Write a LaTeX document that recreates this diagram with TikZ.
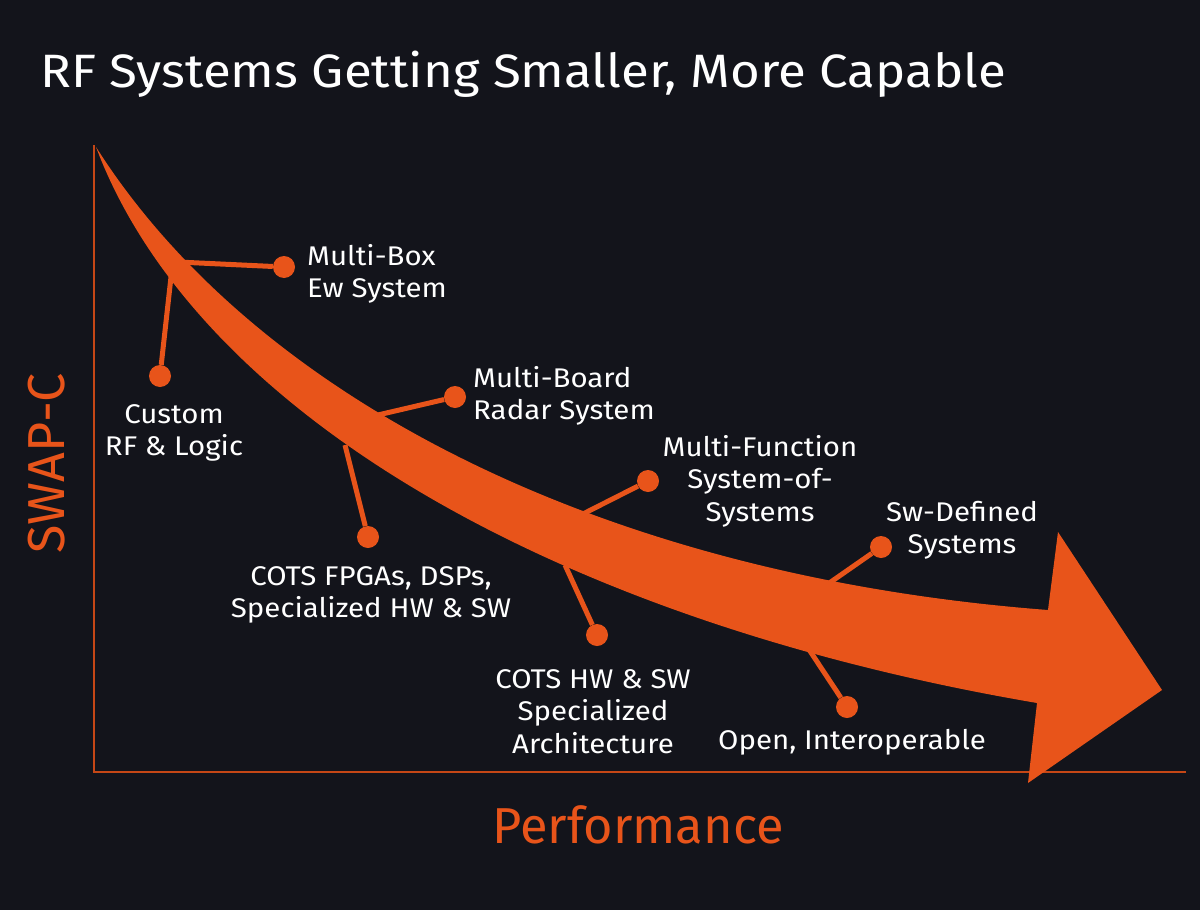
\documentclass[tikz,border=0pt]{standalone}
\usepackage{fontspec}
\setmainfont[FakeStretch=1.09]{Fira Sans}
\newfontfamily\axisfont{Fira Sans}
\definecolor{bgdark}{RGB}{19,20,27}
\definecolor{rforange}{RGB}{232,84,26}

\begin{document}
\begin{tikzpicture}[x=1pt, y=-1pt,
    lbl/.style={text=white, font=\fontsize{27}{32.5}\selectfont, align=center, inner sep=0pt},
    pin/.style={circle, fill=rforange, inner sep=0pt, minimum size=22pt},
    stem/.style={draw=rforange, line width=5pt}]
    \useasboundingbox (0, 0) rectangle (1200, 910);
    \fill[bgdark] (0, 0) rectangle (1200, 910);
    % axes
    \draw[rforange!85!black, line width=1.8pt] (94, 145) -- (94, 772) -- (1186, 772);
    \node[anchor=base west, text=white, inner sep=0pt, font=\fontsize{46.8}{50}\selectfont] (title) at (40, 87) {RF Systems Getting Smaller, More Capable};
    \node[rotate=90, text=rforange, inner sep=0pt, font=\axisfont\fontsize{52}{56}\selectfont] (yax) at (47, 463) {SWAP-C};
    \node[anchor=north, text=rforange, inner sep=0pt, font=\axisfont\fontsize{50.5}{56}\selectfont] (xax) at (638, 805) {Performance};
    % dots
    \node[pin] (box) at (284, 267) {};
    \node[pin] (cust) at (160, 376) {};
    \node[pin] (board) at (455, 397) {};
    \node[pin] (fpga) at (368, 537) {};
    \node[pin] (func) at (648, 481) {};
    \node[pin] (hw) at (597, 635) {};
    \node[pin] (sw) at (881, 547) {};
    \node[pin] (open) at (847, 707) {};
    % points on the arrow
    \coordinate (cbox) at (178, 262);
    \coordinate (ccust) at (172, 268);
    \coordinate (cboard) at (365, 418);
    \coordinate (cfpga) at (345, 445);
    \coordinate (cfunc) at (575, 518);
    \coordinate (chw) at (565, 565);
    \coordinate (csw) at (825, 586);
    \coordinate (copen) at (808, 648);
    \draw[stem] (cbox) -- (box);
    \draw[stem] (ccust) -- (cust);
    \draw[stem] (cboard) -- (board);
    \draw[stem] (cfpga) -- (fpga);
    \draw[stem] (cfunc) -- (func);
    \draw[stem] (chw) -- (hw);
    \draw[stem] (csw) -- (sw);
    \draw[stem] (copen) -- (open);
    % the arrow
    \fill[rforange] (96, 147) .. controls (250, 390) and (590, 575) .. (1048, 610)
        -- (1058, 532) -- (1162, 690) -- (1028, 783) -- (1037, 703)
        .. controls (550, 620) and (195, 410) .. (96, 147) -- cycle;
    % labels
    \node[lbl, anchor=north west, align=left] (tbox) at (307, 244) {Multi-Box\\Ew System};
    \node[lbl, anchor=north] (tcust) at (174, 404) {Custom\\RF \& Logic};
    \node[lbl, anchor=north west, align=left] (tboard) at (473, 366) {Multi-Board\\Radar System};
    \node[lbl, anchor=north] (tfpga) at (371, 566) {COTS FPGAs, DSPs,\\Specialized HW \& SW};
    \node[lbl, anchor=north] (tfunc) at (760, 435) {Multi-Function\\System-of-\\Systems};
    \node[lbl, anchor=north] (tsw) at (962, 501) {Sw-Defined\\Systems};
    \node[lbl, anchor=north] (thw) at (593, 669) {COTS HW \& SW\\Specialized\\Architecture};
    \node[lbl, anchor=north west] (topen) at (718, 729) {Open, Interoperable};
\end{tikzpicture}
\end{document}
